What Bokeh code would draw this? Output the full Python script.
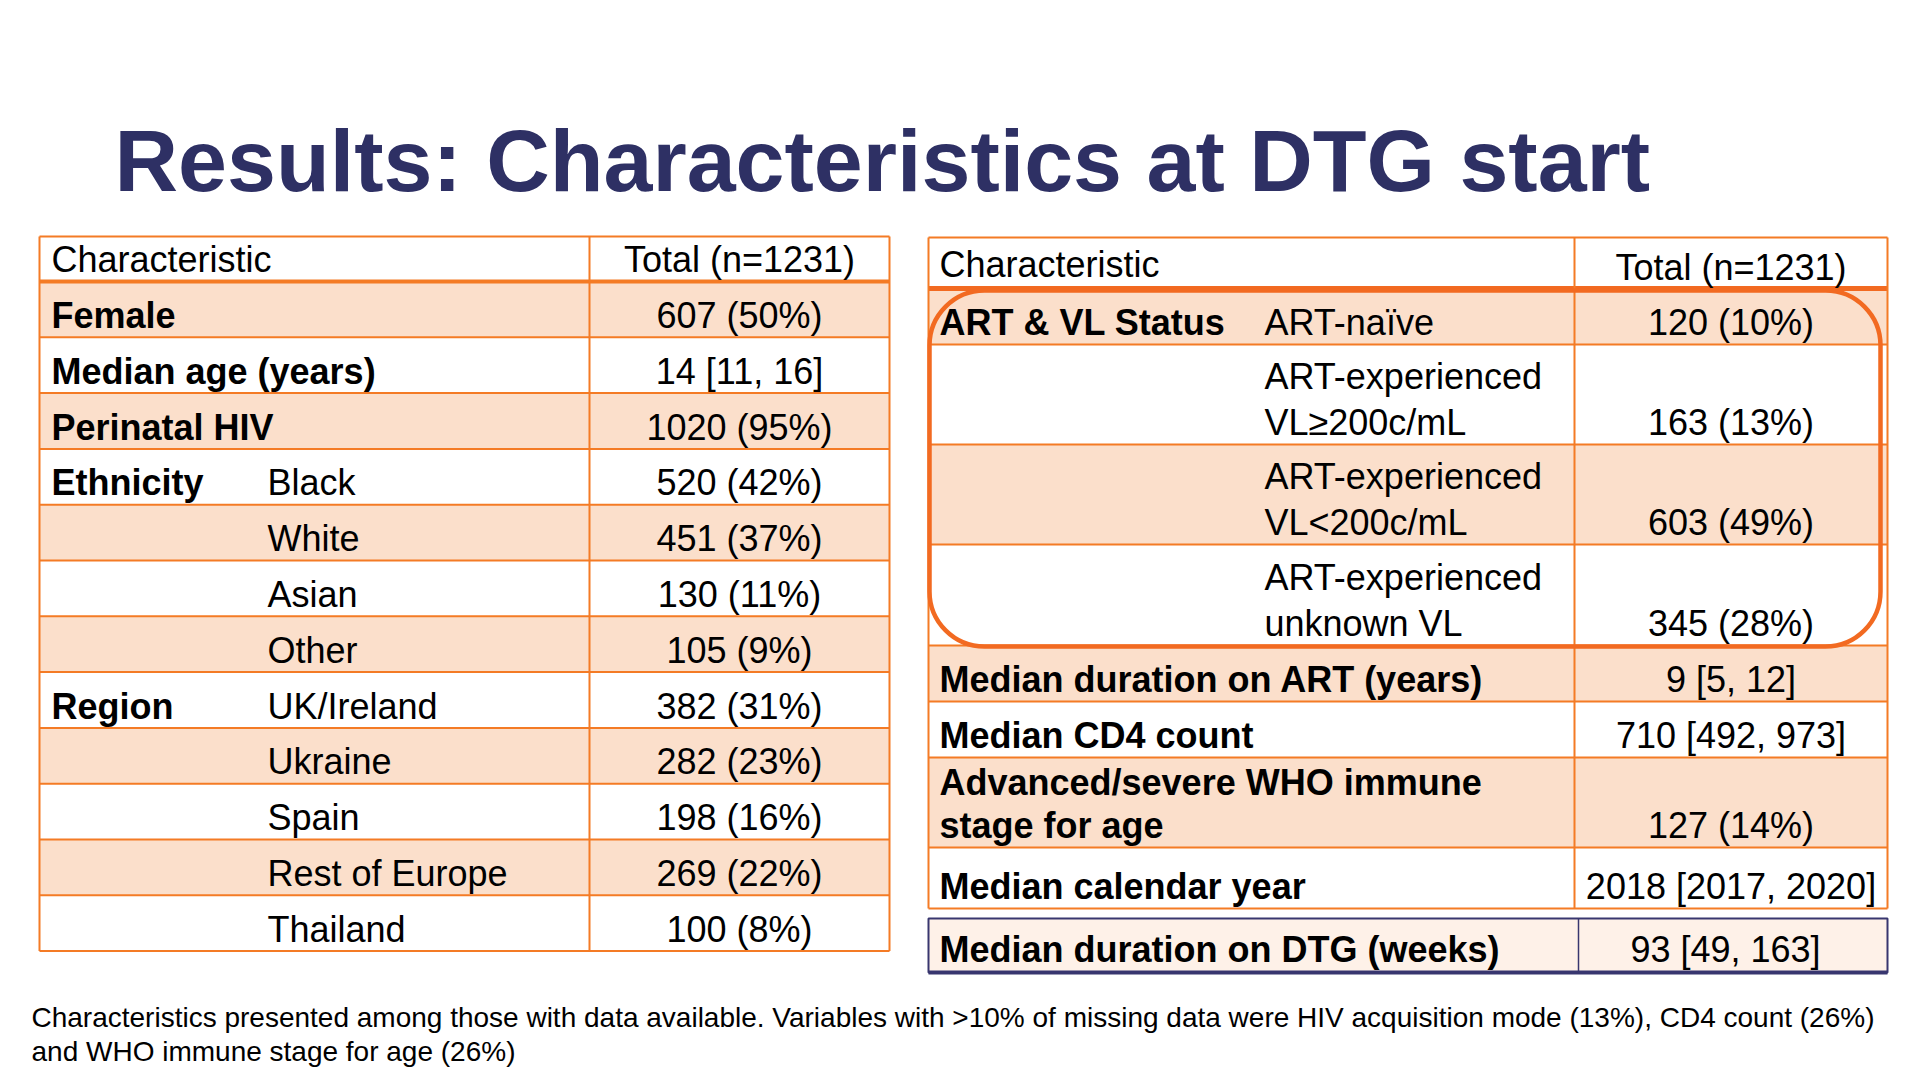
from bokeh.plotting import figure
from bokeh.models import Range1d, BoxAnnotation
from bokeh.core.properties import value
from bokeh.embed import file_html
from bokeh.resources import INLINE

# ---------------- data ----------------
title_text = "Results: Characteristics at DTG start"
header_char = "Characteristic"
header_total = "Total (n=1231)"

left_labels = ["Female", "Median age (years)", "Perinatal HIV", "Ethnicity", "", "", "",
               "Region", "", "", "", ""]
left_sub = ["", "", "", "Black", "White", "Asian", "Other",
            "UK/Ireland", "Ukraine", "Spain", "Rest of Europe", "Thailand"]
left_values = ["607 (50%)", "14 [11, 16]", "1020 (95%)", "520 (42%)", "451 (37%)",
               "130 (11%)", "105 (9%)", "382 (31%)", "282 (23%)", "198 (16%)",
               "269 (22%)", "100 (8%)"]

right_labels = ["ART & VL Status", "", "", "", "Median duration on ART (years)",
                "Median CD4 count", "Advanced/severe WHO immune\nstage for age",
                "Median calendar year"]
right_sub = ["ART-na\u00efve", "ART-experienced\nVL\u2265200c/mL",
             "ART-experienced\nVL<200c/mL", "ART-experienced\nunknown VL", "", "", "", ""]
right_values = ["120 (10%)", "163 (13%)", "603 (49%)", "345 (28%)", "9 [5, 12]",
                "710 [492, 973]", "127 (14%)", "2018 [2017, 2020]"]

dtg_label = "Median duration on DTG (weeks)"
dtg_value = "93 [49, 163]"

footnote = ["Characteristics presented among those with data available. Variables with >10% of missing data were HIV acquisition mode (13%), CD4 count (26%)",
            "and WHO immune stage for age (26%)"]

# ---------------- style / layout ----------------
FONT = "Liberation Sans"
NAVY = "#2E3064"
ORANGE = "#F47B25"
HILITE = "#F26A21"
PEACH = "#FBDFCB"
DTG_FILL = "#FEF1E8"
DTG_LINE = "#38366F"
FS = 36
BASE_K = 0.355  # baseline correction (fraction of font size)

W, H = 1912, 1076
p = figure(width=W, height=H, x_range=Range1d(0, W), y_range=Range1d(H, 0),
           output_backend="svg", toolbar_location=None, min_border=0,
           x_axis_location=None, y_axis_location=None)
p.grid.visible = False
p.outline_line_color = None
p.background_fill_color = "white"
p.border_fill_color = "white"


def txt(xs, ys, texts, size, bold=False, align="left", color="black"):
    ys = [y - BASE_K * size for y in ys]
    p.text(x=xs, y=ys, text=texts, text_font=value(FONT), text_font_size=f"{size}px",
           text_font_style="bold" if bold else "normal", text_align=align,
           text_baseline="alphabetic", text_color=color)


def cell_lines(s, x, base, spacing):
    parts = s.split("\n")
    n = len(parts)
    return ([x] * n, [base - (n - 1 - k) * spacing for k in range(n)], parts)


# title
txt([114], [191], [title_text], 88, bold=True, color=NAVY)

# ---------------- left table ----------------
LX = [39, 589, 889]
L_TOP, L_HEAD_BOT, L_ROW_H = 236, 281, 55.8
n_left = len(left_values)
l_tops = [L_HEAD_BOT + i * L_ROW_H for i in range(n_left)]
l_bots = [t + L_ROW_H for t in l_tops]
l_fill = [PEACH if i % 2 == 0 else "white" for i in range(n_left)]
p.quad(left=LX[0], right=LX[2], top=l_tops, bottom=l_bots, fill_color=l_fill, line_color=None)

hy = [L_TOP] + l_bots
p.segment(x0=[LX[0]] * len(hy), x1=[LX[2]] * len(hy), y0=hy, y1=hy, line_color=ORANGE, line_width=2)
p.segment(x0=[LX[0]], x1=[LX[2]], y0=[L_HEAD_BOT], y1=[L_HEAD_BOT], line_color=ORANGE, line_width=4)
p.segment(x0=LX, x1=LX, y0=[L_TOP] * 3, y1=[l_bots[-1]] * 3, line_color=ORANGE, line_width=2)

txt([51], [L_HEAD_BOT - 9], [header_char], FS)
txt([(LX[1] + LX[2]) / 2], [L_HEAD_BOT - 9], [header_total], FS, align="center")
l_base = [b - 9 for b in l_bots]
txt([51] * n_left, l_base, left_labels, FS, bold=True)
txt([267] * n_left, l_base, left_sub, FS)
txt([(LX[1] + LX[2]) / 2] * n_left, l_base, left_values, FS, align="center")

# ---------------- right table ----------------
RX = [928, 1574, 1887]
R_TOP, R_HEAD_BOT = 237, 288
R_ROW_H = [56, 100, 100, 101, 56, 56, 90, 61]
n_right = len(right_values)
r_tops, r_bots = [], []
y = R_HEAD_BOT
for h in R_ROW_H:
    r_tops.append(y)
    y += h
    r_bots.append(y)
r_fill = [PEACH if i % 2 == 0 else "white" for i in range(n_right)]
p.quad(left=RX[0], right=RX[2], top=r_tops, bottom=r_bots, fill_color=r_fill, line_color=None)

hy = [R_TOP] + r_bots
p.segment(x0=[RX[0]] * len(hy), x1=[RX[2]] * len(hy), y0=hy, y1=hy, line_color=ORANGE, line_width=2)
p.segment(x0=[RX[0]], x1=[RX[2]], y0=[R_HEAD_BOT], y1=[R_HEAD_BOT], line_color=HILITE, line_width=5)
p.segment(x0=RX, x1=RX, y0=[R_TOP] * 3, y1=[r_bots[-1]] * 3, line_color=ORANGE, line_width=2)

txt([939], [R_HEAD_BOT - 11], [header_char], FS)
txt([(RX[1] + RX[2]) / 2], [R_HEAD_BOT - 8], [header_total], FS, align="center")

LS = 46
lx, ly, lt = [], [], []
sx, sy, st = [], [], []
for i in range(n_right):
    base = r_bots[i] - 9
    a, b, c = cell_lines(right_labels[i], 939, base, 43)
    lx += a; ly += b; lt += c
    a, b, c = cell_lines(right_sub[i], 1264, base, LS)
    sx += a; sy += b; st += c
txt(lx, ly, lt, FS, bold=True)
txt(sx, sy, st, FS)
txt([(RX[1] + RX[2]) / 2] * n_right, [b - 9 for b in r_bots], right_values, FS, align="center")

# highlight box
p.add_layout(BoxAnnotation(left=929, right=1880, top=290, bottom=646, fill_alpha=0,
                           line_color=HILITE, line_alpha=1.0, line_width=4.5,
                           border_radius=55))

# ---------------- DTG row ----------------
DX = [928, 1578, 1887]
D_TOP, D_BOT = 918, 972
p.quad(left=[DX[0]], right=[DX[2]], top=[D_TOP], bottom=[D_BOT], fill_color=DTG_FILL,
       line_color=DTG_LINE, line_width=2)
p.segment(x0=[DX[0]], x1=[DX[2]], y0=[D_BOT], y1=[D_BOT], line_color=DTG_LINE, line_width=4)
p.segment(x0=[DX[1]], x1=[DX[1]], y0=[D_TOP], y1=[D_BOT], line_color=DTG_LINE, line_width=1.5)
txt([939], [D_BOT - 10], [dtg_label], FS, bold=True)
txt([1725], [D_BOT - 10], [dtg_value], FS, align="center")

# ---------------- footnote ----------------
txt([31, 31], [1027, 1061], footnote, 28)

open("out.html", "w").write(file_html(p, INLINE))
